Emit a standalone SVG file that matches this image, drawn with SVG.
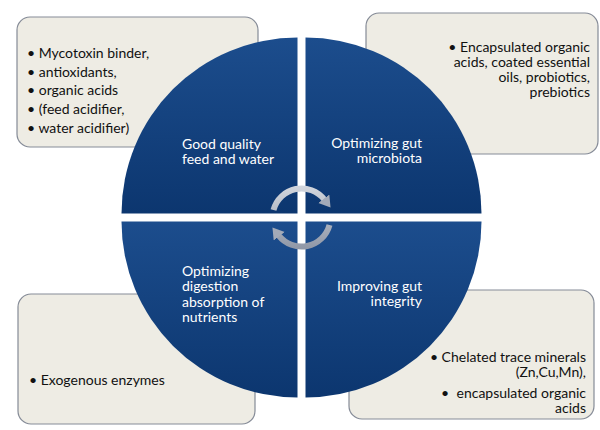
<svg xmlns="http://www.w3.org/2000/svg" width="600" height="430" viewBox="0 0 600 430">
<defs>
<linearGradient id="qg" x1="0" y1="0" x2="0" y2="1">
<stop offset="0" stop-color="#1c4d8d"/>
<stop offset="1" stop-color="#0c366f"/>
</linearGradient>
<linearGradient id="ag" gradientUnits="userSpaceOnUse" x1="0" y1="185" x2="0" y2="252">
<stop offset="0" stop-color="#d3d7de"/>
<stop offset="1" stop-color="#8c94a4"/>
</linearGradient>
<marker id="ah" markerUnits="userSpaceOnUse" markerWidth="14" markerHeight="16" refX="1" refY="7" orient="auto">
<path d="M0,0 L11,7 L0,14 z" fill="#a3aab8"/>
</marker>
</defs>
<style>
.box{fill:#eeece4;stroke:#858b97;stroke-width:1.2}
.quad{fill:url(#qg)}
.bt{font-family:Lato,"Liberation Sans",sans-serif;font-size:14px;fill:#111}
.qt{font-family:Lato,"Liberation Sans",sans-serif;font-size:14px;fill:#ffffff}
.end{text-anchor:end}
.arc{fill:none;stroke:url(#ag);stroke-width:6;marker-end:url(#ah)}
</style>
<rect width="600" height="430" fill="#ffffff"/>

<g id="box-tl">
<rect class="box" x="17" y="17" width="241" height="130" rx="13"/>
<text class="bt" x="27" y="58">• Mycotoxin binder,</text>
<text class="bt" x="27" y="77">• antioxidants,</text>
<text class="bt" x="27" y="95">• organic acids</text>
<text class="bt" x="27" y="114">• (feed acidifier,</text>
<text class="bt" x="27" y="133">• water acidifier)</text>
</g>
<g id="box-tr">
<rect class="box" x="366" y="13" width="232" height="141" rx="13"/>
<text class="bt end" x="590" y="52">• Encapsulated organic</text>
<text class="bt end" x="590" y="67">acids, coated essential</text>
<text class="bt end" x="590" y="82">oils, probiotics,</text>
<text class="bt end" x="590" y="97">prebiotics</text>
</g>
<g id="box-bl">
<rect class="box" x="18" y="294" width="237" height="130" rx="13"/>
<text class="bt" x="29" y="385">• Exogenous enzymes</text>
</g>
<g id="box-br">
<rect class="box" x="349" y="290" width="245" height="129" rx="13"/>
<text class="bt end" x="586" y="362">• Chelated trace minerals</text>
<text class="bt end" x="586" y="377">(Zn,Cu,Mn),</text>
<text class="bt" x="441" y="398">•</text>
<text class="bt end" x="586" y="398">encapsulated organic</text>
<text class="bt end" x="586" y="413">acids</text>
</g>

<g id="quad-tl">
<path class="quad" d="M297.5,213.5 L121.5,213.5 A176,176 0 0 1 297.5,37.5 Z"/>
<text class="qt" x="182" y="149">Good quality</text>
<text class="qt" x="182" y="164">feed and water</text>
</g>
<g id="quad-tr">
<path class="quad" d="M305.5,213.5 L305.5,37.5 A176,176 0 0 1 481.5,213.5 Z"/>
<text class="qt end" x="422" y="148">Optimizing gut</text>
<text class="qt end" x="422" y="163">microbiota</text>
</g>
<g id="quad-br">
<path class="quad" d="M305.5,221.5 L481.5,221.5 A176,176 0 0 1 305.5,397.5 Z"/>
<text class="qt end" x="422" y="291">Improving gut</text>
<text class="qt end" x="422" y="306">integrity</text>
</g>
<g id="quad-bl">
<path class="quad" d="M297.5,221.5 L297.5,397.5 A176,176 0 0 1 121.5,221.5 Z"/>
<text class="qt" x="182" y="276">Optimizing</text>
<text class="qt" x="182" y="291">digestion</text>
<text class="qt" x="182" y="306.5">absorption of</text>
<text class="qt" x="182" y="322">nutrients</text>
</g>

<g id="connectors">
<path class="arc" d="M273.5,210 A29,29 0 0 1 324.4,199.6"/>
<path class="arc" d="M329.5,225 A29,29 0 0 1 278.6,235.4"/>
</g>
</svg>
